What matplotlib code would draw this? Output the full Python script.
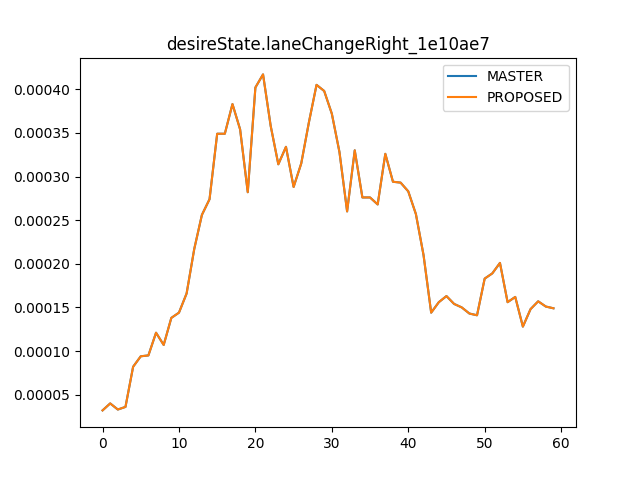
import matplotlib
matplotlib.use("Agg")
import matplotlib.pyplot as plt

title = "desireState.laneChangeRight_1e10ae7"
values = [0.32, 0.40, 0.33, 0.36, 0.82, 0.94, 0.95, 1.21, 1.07, 1.38,
          1.44, 1.66, 2.17, 2.56, 2.74, 3.49, 3.49, 3.83, 3.54, 2.82,
          4.02, 4.17, 3.58, 3.14, 3.34, 2.88, 3.15, 3.62, 4.05, 3.98,
          3.72, 3.28, 2.60, 3.30, 2.76, 2.76, 2.68, 3.26, 2.94, 2.93,
          2.83, 2.57, 2.10, 1.44, 1.56, 1.63, 1.54, 1.50, 1.43, 1.41,
          1.83, 1.89, 2.01, 1.56, 1.62, 1.28, 1.48, 1.57, 1.51, 1.49]
master = [v * 1e-4 for v in values]
proposed = list(master)

fig = plt.figure(figsize=(6.4, 4.8), dpi=100)
plt.plot(master, label="MASTER")
plt.plot(proposed, label="PROPOSED")
plt.title(title)
plt.legend()
plt.savefig("out.png")
